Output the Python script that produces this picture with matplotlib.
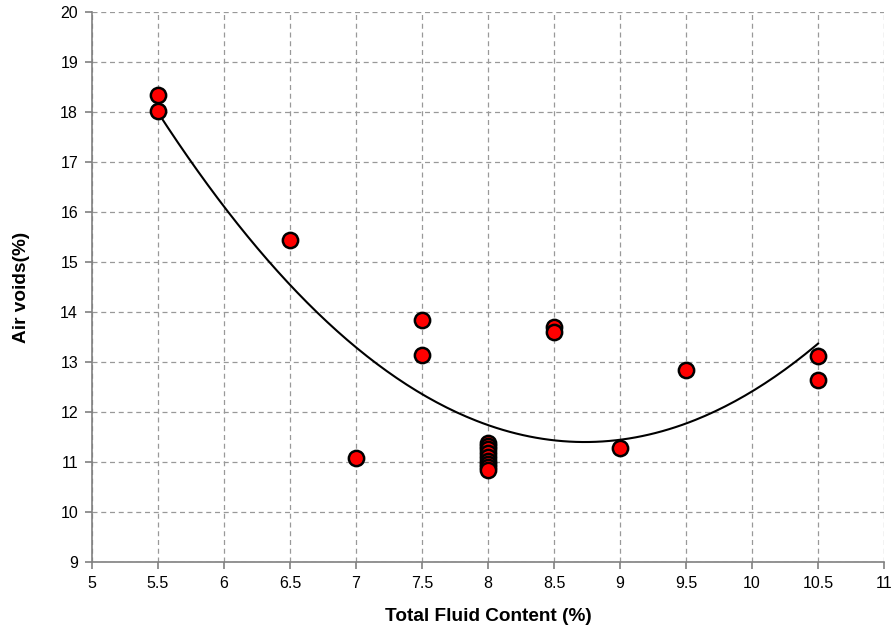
import numpy as np
import matplotlib.pyplot as plt

plt.rcParams["font.family"] = ["Liberation Sans", "DejaVu Sans"]

# the stack at 8 % holds more samples than can be seen, some overlap
fluid_content = [5.5, 5.5, 6.5, 7.0, 7.5, 7.5,
                 8.0, 8.0, 8.0, 8.0, 8.0, 8.0, 8.0, 8.0, 8.0,
                 8.5, 8.5, 9.0, 9.5, 10.5, 10.5]
air_voids = [18.34, 18.02, 15.44, 11.08, 13.84, 13.14,
             11.38, 11.32, 11.26, 11.18, 11.1, 11.02, 10.95, 10.9, 10.84,
             13.7, 13.6, 11.28, 12.84, 13.12, 12.64]

x_ticks = [5, 5.5, 6, 6.5, 7, 7.5, 8, 8.5, 9, 9.5, 10, 10.5, 11]
y_ticks = list(range(9, 21))

fig = plt.figure(figsize=(8.94, 6.33), dpi=100)
ax = fig.add_axes([0.1029, 0.1122, 0.886, 0.8688])

# second order polynomial trendline, like the spreadsheet one
coef = np.polyfit(fluid_content, air_voids, 2)
xs = np.linspace(min(fluid_content), max(fluid_content), 200)
ax.plot(xs, np.polyval(coef, xs), color="black", lw=1.5, zorder=2)

ax.plot(fluid_content, air_voids, "o", ms=11, mfc="#ff0000", mec="black",
        mew=1.8, zorder=3, clip_on=False)

ax.set_xlim(5, 11)
ax.set_ylim(9, 20)
ax.set_xticks(x_ticks)
ax.set_xticklabels([f"{t:g}" for t in x_ticks])
ax.set_yticks(y_ticks)
ax.grid(True, color="#999999", ls=(0, (4, 3)), lw=0.9)
ax.set_axisbelow(True)

for side in ("top", "right"):
    ax.spines[side].set_visible(False)
for side in ("left", "bottom"):
    ax.spines[side].set_color("#808080")
    ax.spines[side].set_linewidth(1.2)
ax.tick_params(direction="out", length=5, width=1.2, color="#808080",
               labelsize=11.5, pad=5)

ax.set_xlabel("Total Fluid Content (%)", fontsize=13.7, fontweight="bold", labelpad=12)
ax.set_ylabel("Air voids(%)", fontsize=13.7, fontweight="bold", labelpad=22)

fig.savefig("out.png", dpi=100)
